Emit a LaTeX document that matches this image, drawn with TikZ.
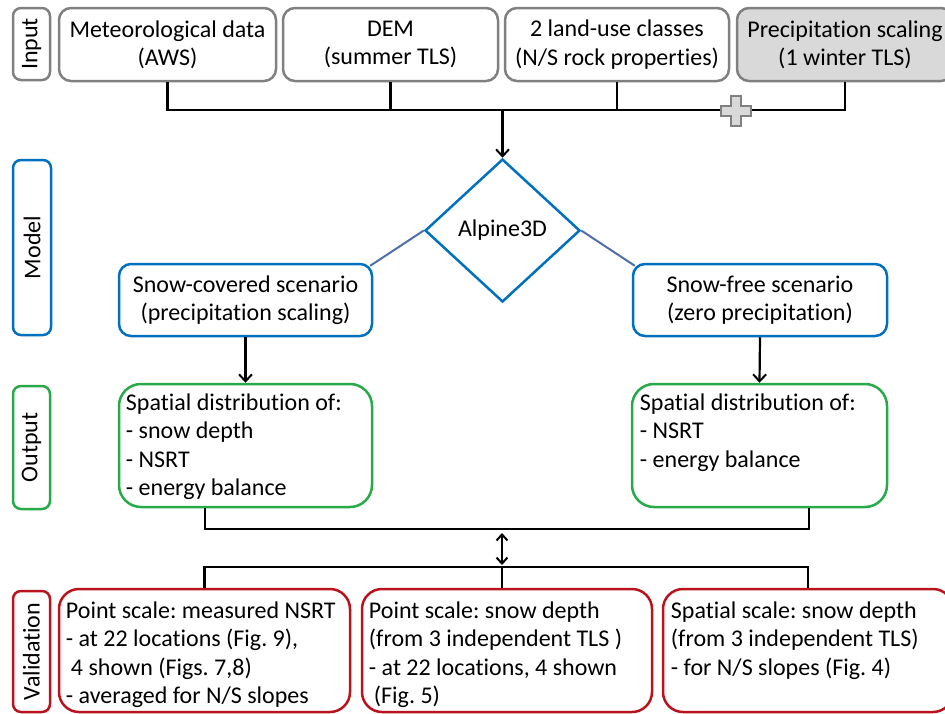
\documentclass[tikz,border=0pt]{standalone}
\usepackage{fontspec}
\setmainfont{Carlito}[Ligatures={NoCommon}]
\frenchspacing
\usetikzlibrary{shapes.geometric,arrows.meta,calc}
\definecolor{inGray}{RGB}{128,128,128}
\definecolor{precFill}{RGB}{217,217,217}
\definecolor{modBlue}{RGB}{0,112,192}
\definecolor{linkBlue}{RGB}{80,110,168}
\definecolor{outGreen}{RGB}{40,170,75}
\definecolor{valRed}{RGB}{185,20,30}
\tikzset{
  fnt/.style={font=\fontsize{24}{28.3}\selectfont},
  box/.style={rectangle, rounded corners=12, line width=2.5pt, inner sep=0, align=center, fnt},
  lab/.style={rectangle, rounded corners=8, line width=2.5pt, inner sep=0, rotate=90, fnt},
  inbox/.style={box, draw=inGray},
  modbox/.style={box, draw=modBlue},
  outbox/.style={box, draw=outGreen, rounded corners=22},
  valbox/.style={box, draw=valRed, rounded corners=20},
  txt/.style={inner sep=0, align=left, fnt},
  wire/.style={line width=2.2pt, black},
  link/.style={line width=2pt, linkBlue},
  tip/.style={-{Straight Barb[length=7pt,width=13pt,line width=2pt]}},
  dtip/.style={{Straight Barb[length=6pt,width=11pt,line width=2pt]}-{Straight Barb[length=6pt,width=11pt,line width=2pt]}}
}
\begin{document}
\begin{tikzpicture}[x=1pt,y=-1pt]
\useasboundingbox (0,0) rectangle (945,713);

% ---------- Input row
\node[lab, draw=inGray, minimum width=72, minimum height=37] (inlab) at (31.5,44) {Input};
\node[inbox, minimum width=217, minimum height=73] (met) at (167.5,44.5) {Meteorological data\\(AWS)};
\node[inbox, minimum width=215, minimum height=73] (dem) at (390.5,44.5) {DEM\\(summer TLS)};
\node[inbox, minimum width=224, minimum height=73] (land) at (617,44.5) {2 land-use classes\\(N/S rock properties)};
\node[inbox, fill=precFill, minimum width=216, minimum height=73] (prec) at (845,44.5) {Precipitation scaling\\(1 winter TLS)};

\coordinate (hub) at (502.5,110);
\draw[wire] (met.south) |- (prec.south |- hub) -- (prec.south);
\draw[wire] (dem.south) -- (dem.south |- hub);
\draw[wire] (land.south) -- (land.south |- hub);

% plus sign
\coordinate (plusc) at (736,111);
\draw[draw=inGray, fill=precFill, line width=1.5pt]
  ($(plusc)+(-5,-15)$) -- ++(10,0) -- ++(0,10) -- ++(10,0) -- ++(0,10) -- ++(-10,0)
  -- ++(0,10) -- ++(-10,0) -- ++(0,-10) -- ++(-10,0) -- ++(0,-10) -- ++(10,0) -- cycle;

% ---------- Model row
\node[lab, draw=modBlue, minimum width=175, minimum height=38] (modlab) at (32,247.5) {Model};
\node[diamond, draw=modBlue, line width=2.5pt, minimum width=155, minimum height=143, inner sep=0, fnt] (alp) at (502.5,230.5) {Alpine3D};
\draw[wire, tip] (hub) -- (alp.north);

\node[modbox, minimum width=253, minimum height=72] (scov) at (245.5,300) {Snow-covered scenario\\(precipitation scaling)};
\node[modbox, minimum width=254, minimum height=72] (sfree) at (760,300) {Snow-free scenario\\(zero precipitation)};
\draw[link] (alp.west) -- ($(scov.north east)+(-3,3)$);
\draw[link] (alp.east) -- ($(sfree.north west)+(3,3)$);

% ---------- Output row
\node[lab, draw=outGreen, minimum width=123, minimum height=37] (outlab) at (31.5,447.5) {Output};
\node[outbox, minimum width=253, minimum height=123] (out1) at (245.5,445.5) {};
\node[outbox, minimum width=255, minimum height=123] (out2) at (759.5,445.5) {};
\node[txt, anchor=north west] (out1t) at ($(out1.north west)+(8,11)$) {Spatial distribution of:\\- snow depth\\- NSRT\\- energy balance};
\node[txt, anchor=north west] (out2t) at ($(out2.north west)+(9,11)$) {Spatial distribution of:\\- NSRT\\- energy balance};
\draw[wire, tip] (scov.south) -- (out1.north);
\draw[wire, tip] (sfree.south) -- (out2.north);

\coordinate (obus) at (502,529);
\draw[wire] ([xshift=-40.5pt]out1.south) |- ([xshift=49.5pt]out2.south |- obus) -- ([xshift=49.5pt]out2.south);

% ---------- Validation row
\coordinate (vbus) at (502,567);
\draw[wire, dtip, shorten <=4pt, shorten >=2pt] (obus) -- (vbus);

\node[lab, draw=valRed, minimum width=121, minimum height=37] (vallab) at (31.5,651.5) {Validation};
\node[valbox, minimum width=291, minimum height=123] (v1) at (204.5,650.5) {};
\node[valbox, minimum width=290, minimum height=123] (v2) at (507,650.5) {};
\node[valbox, minimum width=290, minimum height=123] (v3) at (808,650.5) {};
\node[txt, anchor=north west] (v1t) at ($(v1.north west)+(8,14)$) {Point scale: measured NSRT\\- at 22 locations (Fig. 9),\\\hspace*{5pt}4 shown (Figs. 7,8)\\- averaged for N/S slopes};
\node[txt, anchor=north west] (v2t) at ($(v2.north west)+(8,14)$) {Point scale: snow depth\\(from 3 independent TLS )\\- at 22 locations, 4 shown\\\hspace*{5pt}(Fig. 5)};
\node[txt, anchor=north west] (v3t) at ($(v3.north west)+(9,14)$) {Spatial scale: snow depth\\(from 3 independent TLS)\\- for N/S slopes (Fig. 4)};

\draw[wire] (v1.north) |- (v3.north |- vbus) -- (v3.north);
\draw[wire] ([xshift=-5pt]v2.north) -- ([xshift=-5pt]v2.north |- vbus);
\end{tikzpicture}
\end{document}
